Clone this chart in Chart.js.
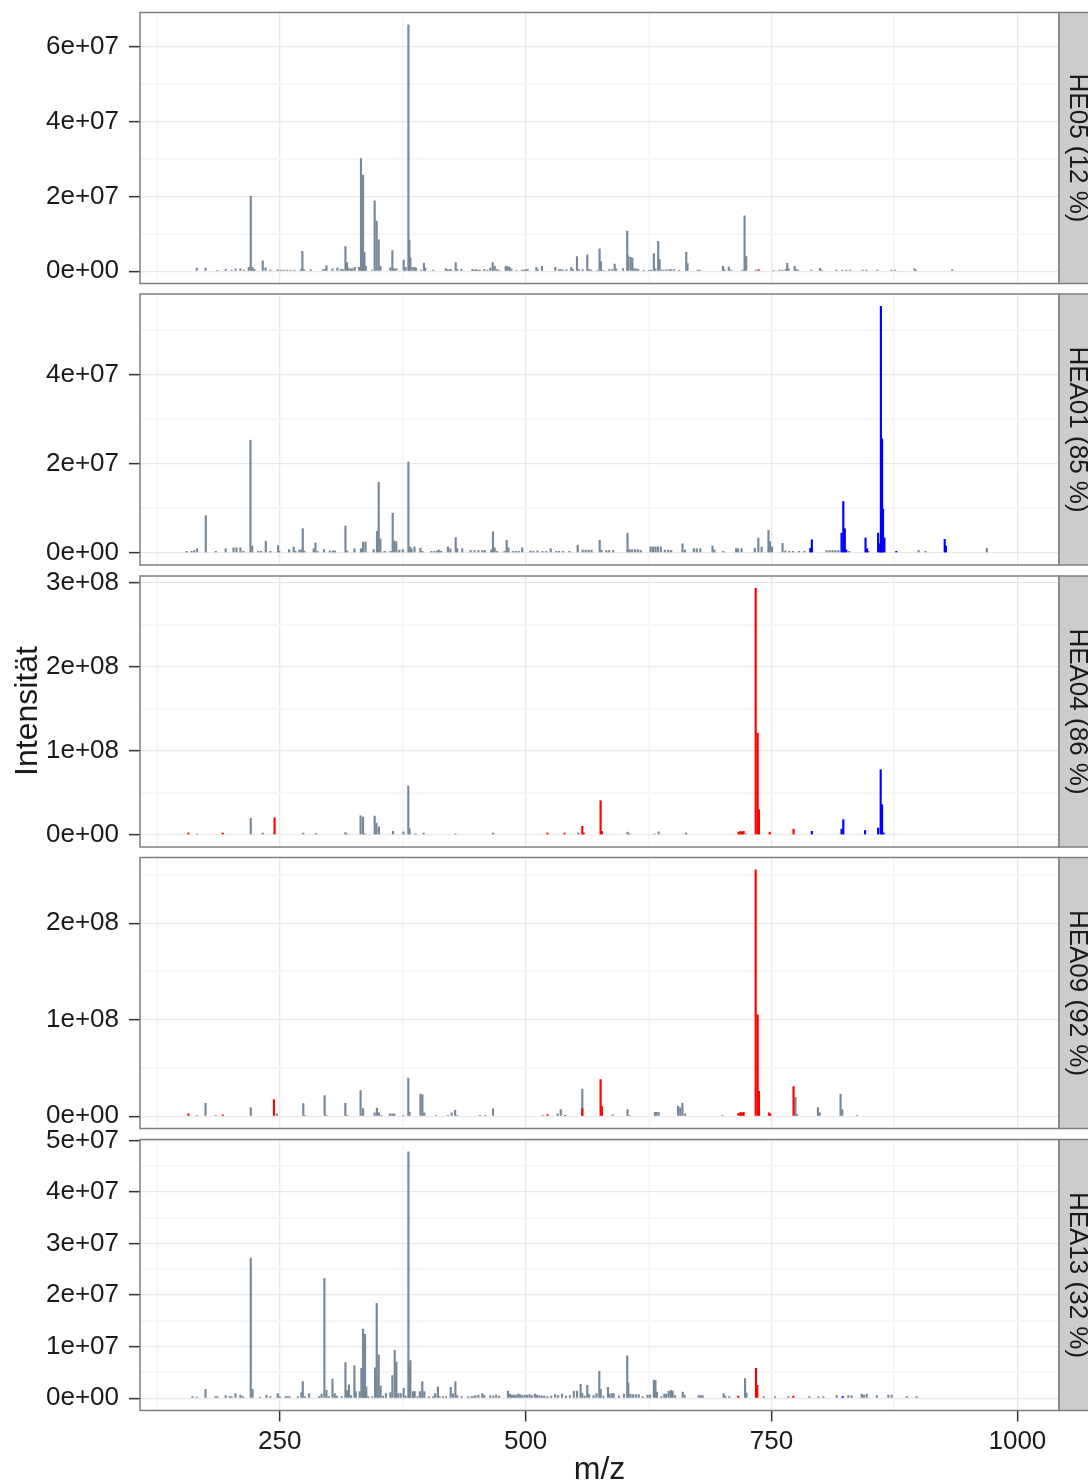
<!DOCTYPE html>
<html>
<head>
<meta charset="utf-8">
<script src="https://cdn.jsdelivr.net/npm/chart.js@4/dist/chart.umd.min.js"></script>
<style>
  html, body { margin: 0; padding: 0; background: #ffffff; }
  body { width: 1088px; height: 1484px; position: relative; overflow: hidden; }
  canvas { position: absolute; left: 0; }
</style>
</head>
<body>
<script>
// ---- axis labels -------------------------------------------------------
const mzTicks = ['250', '500', '750', '1000'];
const mzMinorTicks = ['125', '375', '625', '875'];
const mzLimits = [107.9, 1042.3];
const xTitle = 'm/z';
const yTitle = 'Intensität';

const sampleLabels = ['HE05 (12 %)', 'HEA01 (85 %)', 'HEA04 (86 %)', 'HEA09 (92 %)', 'HEA13 (32 %)'];

const he05Ticks  = ['0e+00', '2e+07', '4e+07', '6e+07'];
const hea01Ticks = ['0e+00', '2e+07', '4e+07'];
const hea04Ticks = ['0e+00', '1e+08', '2e+08', '3e+08'];
const hea09Ticks = ['0e+00', '1e+08', '2e+08'];
const hea13Ticks = ['0e+00', '1e+07', '2e+07', '3e+07', '4e+07', '5e+07'];

// ---- peaks: [m/z, intensity in millions] --------------------------------
const he05Grey = [[165.6,0.8],[174.5,0.8],[186.7,0.2],[195,0.5],[201,0.3],[205,0.6],[210,0.6],[213.7,0.3],[218.5,1.0],[220.5,20.0],[222.3,1.0],[224.2,0.5],[232.7,2.8],[235.5,0.9],[240.5,0.3],[248,0.4],[251,0.3],[254,0.3],[257.5,0.3],[261,0.3],[265,0.3],[271.5,0.4],[273,5.3],[274.5,0.4],[281.5,0.4],[294,0.4],[296,0.5],[297.5,1.5],[303.6,0.6],[308.6,0.9],[312,0.5],[314,0.5],[316.8,6.6],[318.4,2.3],[320,0.8],[322.5,0.6],[324,0.6],[326.2,1.0],[330.6,1.0],[332.6,30.1],[333.7,6.2],[334.7,25.7],[336.1,5.0],[337.5,1.3],[344,0.3],[346.5,18.8],[348.5,13.4],[350.6,8.4],[352.3,1.3],[362.5,0.9],[364.5,5.5],[366.3,0.6],[368.5,0.7],[376,3.0],[378,1.0],[380.8,65.9],[381.8,8.3],[382.8,3.6],[385,1.0],[387,1.0],[388.5,0.8],[393.5,0.3],[396.6,2.2],[398,0.8],[406,0.3],[418.7,0.7],[420.5,0.4],[422.5,0.4],[424,0.4],[428.9,2.3],[430.5,0.5],[434.6,0.5],[445.8,0.5],[447.5,0.3],[449.5,0.4],[451.5,0.3],[453.5,0.3],[458,0.5],[461,0.3],[464,0.8],[466.5,2.3],[468.5,1.3],[470.5,0.5],[473,0.3],[479.7,1.2],[481.5,1.3],[483.5,1.0],[485.5,0.6],[490.5,0.2],[496.5,0.3],[498.5,0.3],[500.5,0.4],[502,0.4],[510.9,1.0],[512.5,0.4],[516.6,1.3],[530.2,1.0],[534,0.4],[536,0.4],[538,0.3],[541.5,0.4],[546.4,1.0],[548,0.5],[552.2,3.9],[554,0.4],[558,0.4],[562.7,4.4],[564.5,0.4],[566.5,0.3],[573,0.2],[575.2,6.0],[576.6,2.5],[579,0.2],[585,0.4],[588,0.4],[590.5,1.9],[592,0.6],[599,0.7],[603.3,10.7],[604.3,4.1],[606.7,3.7],[608.5,3.5],[610.5,0.6],[612.5,0.6],[614.5,0.5],[620,0.2],[625.5,0.2],[627.5,0.3],[630.4,4.7],[632,0.6],[634.8,8.0],[636.2,3.1],[638,0.3],[640,0.3],[643,0.4],[646,0.4],[648,0.4],[651,0.4],[656,0.2],[663.3,5.1],[664.6,2.0],[675,0.3],[677,0.3],[700.6,1.3],[702,0.4],[706.6,1.1],[709,0.3],[720.5,0.3],[722.6,14.8],[724.3,3.9],[734,0.3],[752,0.2],[758,0.3],[761,0.3],[764.5,0.5],[766,2.1],[767.5,0.6],[773.5,1.3],[775,0.5],[777,0.3],[790.3,0.3],[799.3,0.8],[801.2,0.3],[816,0.3],[822,0.3],[826,0.3],[830,0.3],[842.7,0.3],[846.4,0.3],[857.6,0.3],[872,0.3],[875.6,0.3],[895.4,0.7],[897,0.3],[933.8,0.4]];
const he05Red = [[736.8,0.4]];
const he05Blue = [];

const hea01Grey = [[155.2,0.3],[160.3,0.3],[163,0.5],[166,0.9],[174.8,8.3],[185,0.3],[195,0.9],[203,1.1],[206,1.1],[210,1.1],[213,0.3],[220.2,25.3],[222,1.5],[228,0.3],[231,0.3],[235.8,2.6],[240.5,0.3],[248.3,1.6],[249.5,0.3],[259.5,0.7],[264.2,1.3],[266,0.3],[270,0.6],[272,0.6],[273.4,5.4],[275,0.4],[284.5,0.9],[286.3,2.2],[288.5,0.3],[295,0.7],[301,0.4],[304,0.4],[306,0.4],[316.8,6.0],[318.5,0.4],[326,0.9],[332.5,0.9],[334.7,2.4],[337.2,2.4],[345.5,0.7],[348.9,4.8],[350.6,15.8],[352.3,3.1],[356.5,0.3],[362.5,0.3],[364.8,8.9],[366.5,2.6],[368.5,2.5],[371.5,0.6],[375,0.7],[380.8,20.4],[382.3,1.3],[384,0.9],[387,1.3],[393,1.0],[395,0.3],[404,0.3],[407,0.3],[410,0.4],[412,0.6],[414,0.3],[421,1.3],[423.5,0.9],[428.9,3.4],[430.5,0.9],[435.5,0.9],[444,0.5],[448,0.5],[452,0.5],[456,0.5],[458.5,0.5],[465,0.6],[466.8,4.7],[468.5,1.1],[471,0.3],[478.5,0.3],[480.7,2.8],[482.5,1.1],[487,0.3],[490,0.3],[493,0.3],[496.5,1.1],[505,0.4],[508,0.3],[512,0.4],[517,0.3],[521,0.3],[525.5,0.9],[531,0.3],[534,0.3],[538,0.3],[544.5,0.3],[552.9,1.7],[558,0.6],[561,0.6],[564,0.6],[567,0.6],[575.3,2.8],[577,0.6],[582,0.5],[585,0.5],[589,0.5],[603.6,4.4],[605.5,0.7],[608,0.7],[611,0.7],[614,0.7],[617,0.5],[627,1.3],[629.5,1.3],[632,1.3],[634.5,1.3],[637.5,1.3],[641.5,0.6],[645,0.6],[648,0.5],[659.5,2.0],[662,0.6],[671,0.9],[674,0.9],[677.5,0.9],[690,1.5],[692,0.6],[701,0.3],[714,0.9],[716,0.9],[719.5,0.9],[733,1.0],[736.6,3.3],[740,1.3],[746.9,5.0],[748.5,2.5],[750.5,1.3],[761.2,2.1],[764,0.4],[768,0.3],[772,0.3],[778,0.3],[783.5,0.3],[806,0.5],[809,0.5],[812,0.5],[815,0.5],[818,0.5],[829,0.3],[848.5,0.3],[899.5,0.5],[906.5,0.3],[968.9,1.0]];
const hea01Red = [];
const hea01Blue = [[789.5,1.0],[791,2.9],[821.2,4.4],[823,11.5],[824.5,5.4],[826,0.6],[845.6,3.3],[847.2,0.9],[858.4,4.4],[860,2.0],[861.2,55.4],[862.4,25.6],[863.4,9.8],[864.8,3.3],[876.9,0.3],[926.1,3.0],[927.3,1.5]];

const hea04Grey = [[165.9,1],[220.5,19.4],[232.7,2],[273.9,2],[286.7,1.5],[316.7,2.4],[318.5,0.8],[332.2,22.6],[334.7,21],[336.5,1],[346.5,22.2],[348.3,14],[350.8,9.5],[365.1,4],[375.7,3.4],[380.7,58],[382,7],[388,1],[396.3,2],[428.5,1],[467,2],[553.5,2],[603.6,3],[605.5,1],[631,1],[635.2,3.4],[663.1,2],[724,1]];
const hea04Red = [[157.1,2],[192,2],[244.7,20.2],[522.2,2],[539.5,2],[557.6,10],[559,2],[576.2,40.5],[577.5,4],[716.5,3],[718.5,4],[720,3],[721.6,4],[733.9,293.7],[735.9,121],[737.2,29.8],[748.2,3],[772.4,6.5]];
const hea04Blue = [[791,4],[821.2,6.5],[823,17.9],[845.1,5],[858.4,8],[861,77.4],[862.4,35.7],[864,2]];

const hea09Grey = [[165.9,1],[174.5,13.4],[185,0.8],[220.5,9],[247,2.4],[273.9,13.1],[275.5,1],[295.6,21.3],[297.5,1],[316.7,13.4],[318.5,1],[332.2,26.5],[334.7,8],[346.5,3.4],[348.8,8.3],[350.8,3.4],[353.5,1],[362,2.4],[364.5,2.4],[366.5,2.4],[375.5,1],[380.7,39.6],[382,4],[393.1,23],[395,22],[397,3.4],[409,0.8],[421,1],[424.8,3.4],[428.3,6],[430,1],[453.5,1],[459,1],[466.9,7.6],[517.5,1],[532.5,2.4],[535.7,6.9],[557.6,28],[588.5,1.5],[603.6,6.9],[605.5,1],[631.4,4],[633,4],[635.2,4],[655,10.3],[657.2,8.6],[659.4,13.7],[662,2.4],[700,1],[774.3,19.5],[776,2],[797.2,9],[799,3.4],[820.2,23],[822,6.9],[837,1]];
const hea09Red = [[157.1,2.4],[192,1.4],[244.1,17.2],[522.2,1.6],[540,1],[557.6,8],[576.2,37.8],[577.5,10],[716.5,3],[718.5,4],[720,3],[721.6,4],[733.9,255.3],[735.9,105],[737.2,25.8],[747.5,3.4],[748.8,2.4],[772.4,30.6]];
const hea09Blue = [];

const hea13Grey = [[161.3,0.3],[165.6,0.2],[174.5,1.7],[184.5,0.3],[186.5,0.3],[195,0.5],[199,0.3],[201,0.3],[205,0.9],[210,0.6],[212.5,0.3],[220.5,27.2],[222.3,1.7],[230,0.2],[236.5,0.6],[240.5,0.3],[248,0.9],[250,0.3],[256,0.3],[258,0.3],[260,0.3],[268.5,0.3],[272,1.1],[273.4,3.2],[275.5,0.3],[279.8,0.9],[290,0.3],[292.5,0.8],[295.4,23.2],[297.5,1.5],[300,0.3],[303.6,3.7],[306,0.9],[308,0.4],[313,0.3],[316.8,6.9],[318.4,1.5],[320.4,2.6],[322.5,0.5],[325.9,6.3],[327.3,1.3],[331.3,1.3],[333,5.8],[334.7,13.4],[336.7,12.4],[338,2.2],[340,0.3],[344,0.3],[346.9,5.9],[348.6,18.4],[350.6,8.4],[352.5,2.4],[355,0.4],[358,0.9],[362.5,1.1],[364.5,4.4],[366.9,9.3],[368.6,7.0],[370.5,0.9],[373,0.9],[376,1.9],[378,0.4],[380.8,47.8],[381.4,5.9],[382.8,7.3],[385.5,1.3],[387.2,1.3],[390,0.3],[392.5,1.3],[394.9,3.2],[397,1.3],[401.5,0.3],[406,0.3],[408,0.9],[410.8,2.2],[412.5,0.3],[416,0.3],[419,0.3],[423.8,2.1],[426,0.9],[428.6,3.2],[430.5,0.5],[435,0.3],[441.5,0.3],[445,0.3],[447,0.3],[449,0.5],[452,0.6],[456,0.9],[458,0.5],[464,0.5],[467,0.4],[470,0.6],[473,0.4],[482,1.4],[484,0.8],[486,0.6],[488,0.6],[490,0.6],[492.5,0.8],[494.5,0.7],[496.5,0.5],[499,0.6],[501.5,0.6],[504,0.7],[506.5,0.5],[509.5,0.8],[511.5,0.6],[514,0.5],[516.5,0.4],[519,0.4],[522,0.3],[526,0.4],[530,0.7],[533,0.5],[537,0.8],[541,0.4],[545,0.5],[549,1.4],[552.2,1.4],[555.9,2.7],[557.5,0.9],[560,0.4],[562.7,2.5],[564.5,0.7],[569,0.5],[572,0.9],[574.9,5.2],[576.3,1.7],[579,0.4],[583.7,2.1],[585.2,0.8],[587.5,0.9],[589.5,0.9],[595,0.4],[600,0.8],[603.3,8.2],[604.3,3.0],[606.5,0.8],[609,0.7],[612,0.7],[615,0.7],[619,0.3],[624,0.6],[626.5,0.6],[630.4,3.5],[632,3.4],[633.5,1.2],[638,0.3],[641,0.8],[643,0.8],[645.5,1.4],[647.9,1.5],[649.5,1.4],[652,0.5],[659.7,1.2],[661.5,0.6],[676,0.5],[678,0.5],[680,0.5],[701.3,0.9],[703,0.4],[707,0.3],[723.1,3.8],[724.5,1.0],[742,0.3],[753.6,0.3],[767.1,0.3],[788.4,0.3],[797.6,0.3],[802.7,0.3],[816.3,0.5],[828.1,0.5],[831.5,0.5],[841.7,0.8],[844,0.6],[846.8,0.8],[857,0.5],[868.8,0.6],[872.2,0.6],[887.5,0.3],[897.6,0.3]];
const hea13Red = [[716.2,0.4],[734.2,5.8],[735.5,2.5],[772.2,0.4]];
const hea13Blue = [[822.4,0.3]];

// ---- styling -------------------------------------------------------------
const GREY = '#778899', RED = '#ff0000', BLUE = '#0000ff';
const FONT = '"Liberation Sans", Arial, Helvetica, sans-serif';
const TEXT = '#1a1a1a';
const GRID_MAJOR = '#e9e9e9', GRID_MINOR = '#f7f7f7';
const TICK_MARK = '#333333';
const TICK_FONT = 26;

const PLOT_LEFT = 140, PLOT_RIGHT = 1059, PANEL_H = 271, PAGE_H = 1484;
const panelTops = [12.5, 294, 576, 857.5, 1139.5];

Chart.defaults.font.family = FONT;
Chart.defaults.color = TEXT;

const panels = [
  { label: sampleLabels[0], ticks: he05Ticks,  grey: he05Grey,  red: he05Red,  blue: he05Blue },
  { label: sampleLabels[1], ticks: hea01Ticks, grey: hea01Grey, red: hea01Red, blue: hea01Blue },
  { label: sampleLabels[2], ticks: hea04Ticks, grey: hea04Grey, red: hea04Red, blue: hea04Blue },
  { label: sampleLabels[3], ticks: hea09Ticks, grey: hea09Grey, red: hea09Red, blue: hea09Blue },
  { label: sampleLabels[4], ticks: hea13Ticks, grey: hea13Grey, red: hea13Red, blue: hea13Blue }
];

// draws panel frame, facet strip and the shared axis titles
const facetPlugin = {
  id: 'facet',
  afterDatasetsDraw(chart, args, opts) {
    const { ctx, chartArea: a } = chart;
    ctx.save();
    ctx.lineWidth = 1.5;
    ctx.strokeStyle = '#7f7f7f';
    ctx.strokeRect(a.left, a.top, a.right - a.left, a.bottom - a.top);
    // strip on the right
    ctx.fillStyle = '#cccccc';
    ctx.fillRect(a.right, a.top, 60, a.bottom - a.top);
    ctx.strokeRect(a.right, a.top, 60, a.bottom - a.top);
    ctx.fillStyle = TEXT;
    ctx.font = TICK_FONT + 'px ' + FONT;
    ctx.textAlign = 'center';
    ctx.textBaseline = 'alphabetic';
    ctx.save();
    ctx.translate(a.right + 10.5, (a.top + a.bottom) / 2);
    ctx.rotate(Math.PI / 2);
    ctx.fillText(opts.label, 0, 0);
    ctx.restore();
    ctx.font = '32px ' + FONT;
    if (opts.yTitle) {
      ctx.save();
      ctx.translate(36.5, 711 - opts.canvasTop);
      ctx.rotate(-Math.PI / 2);
      ctx.fillText(opts.yTitle, 0, 0);
      ctx.restore();
    }
    if (opts.xTitle) {
      ctx.fillText(opts.xTitle, (PLOT_LEFT + PLOT_RIGHT) / 2, 1479 - opts.canvasTop);
    }
    ctx.restore();
  }
};

const gridColor = c => (c.tick && c.tick.minor ? GRID_MINOR : GRID_MAJOR);
const gridWidth = c => (c.tick && c.tick.minor ? 2 : 1.3);
const tickColor = c => (c.tick && c.tick.minor ? 'rgba(0,0,0,0)' : TICK_MARK);
// label overflow is already covered by the canvas margins
const noAxisPadding = s => { s.paddingTop = 0; s.paddingBottom = 0; s.paddingLeft = 0; s.paddingRight = 0; };

panels.forEach((p, i) => {
  const isLast = i === panels.length - 1;
  const top = panelTops[i];
  const canvasTop = Math.floor(top) - 18;
  const canvasH = isLast ? PAGE_H - canvasTop : PANEL_H + 36;
  const padTop = top - canvasTop;
  const padBottom = isLast ? 0 : canvasH - padTop - PANEL_H;

  const canvas = document.createElement('canvas');
  canvas.width = 1088;
  canvas.height = canvasH;
  canvas.style.top = canvasTop + 'px';
  document.body.appendChild(canvas);

  // points of one spectrum, coloured by assignment
  const points = [];
  p.grey.forEach(([mz, v]) => points.push({ x: mz, y: v * 1e6, c: GREY }));
  p.red.forEach(([mz, v]) => points.push({ x: mz, y: v * 1e6, c: RED }));
  p.blue.forEach(([mz, v]) => points.push({ x: mz, y: v * 1e6, c: BLUE }));
  const peak = Math.max(...points.map(d => d.y));

  const majorVals = p.ticks.map(Number);
  const step = majorVals[1] - majorVals[0];
  const yMax = peak * 1.05, yMin = -peak * 0.05;
  const yTicks = [];
  majorVals.forEach((v, k) => {
    yTicks.push({ value: v, text: p.ticks[k] });
    if (v + step / 2 < yMax) yTicks.push({ value: v + step / 2, minor: true });
  });
  const xTicks = [];
  mzTicks.forEach((t, k) => {
    xTicks.push({ value: Number(mzMinorTicks[k]), minor: true });
    xTicks.push({ value: Number(t), text: t });
  });

  new Chart(canvas, {
    type: 'bar',
    data: {
      datasets: [{
        data: points,
        backgroundColor: c => (c.raw ? c.raw.c : GREY),
        borderWidth: 0,
        barThickness: 1.5,
        minBarLength: 0
      }]
    },
    options: {
      responsive: false,
      animation: false,
      devicePixelRatio: 1,
      events: [],
      layout: { padding: { left: 0, right: 1088 - PLOT_RIGHT, top: padTop, bottom: padBottom } },
      plugins: {
        legend: { display: false },
        tooltip: { enabled: false },
        facet: {
          label: p.label,
          canvasTop: canvasTop,
          yTitle: i === 2 ? yTitle : null,
          xTitle: isLast ? xTitle : null
        }
      },
      scales: {
        x: {
          type: 'linear',
          min: mzLimits[0],
          max: mzLimits[1],
          offset: false,
          bounds: 'data',
          afterBuildTicks: s => { s.ticks = xTicks.map(t => Object.assign({}, t)); },
          afterFit: s => { s.height = isLast ? canvasH - padTop - PANEL_H : 0; noAxisPadding(s); },
          border: { display: false },
          grid: {
            offset: false,
            color: gridColor,
            lineWidth: gridWidth,
            drawTicks: isLast,
            tickLength: 11,
            tickWidth: 1.5,
            tickColor: tickColor
          },
          ticks: {
            display: isLast,
            autoSkip: false,
            maxRotation: 0,
            padding: 5,
            color: TEXT,
            font: { size: TICK_FONT, family: FONT },
            callback: (v, k, ts) => ts[k].text || ''
          }
        },
        y: {
          type: 'linear',
          min: yMin,
          max: yMax,
          stacked: false,
          bounds: 'data',
          afterBuildTicks: s => { s.ticks = yTicks.map(t => Object.assign({}, t)); },
          afterFit: s => { s.width = PLOT_LEFT; noAxisPadding(s); },
          border: { display: false },
          grid: {
            color: gridColor,
            lineWidth: gridWidth,
            drawTicks: true,
            tickLength: 11,
            tickWidth: 1.5,
            tickColor: tickColor
          },
          ticks: {
            autoSkip: false,
            padding: 10,
            color: TEXT,
            font: { size: TICK_FONT, family: FONT },
            callback: (v, k, ts) => ts[k].text || ''
          }
        }
      }
    },
    plugins: [facetPlugin]
  });
});
</script>
</body>
</html>
